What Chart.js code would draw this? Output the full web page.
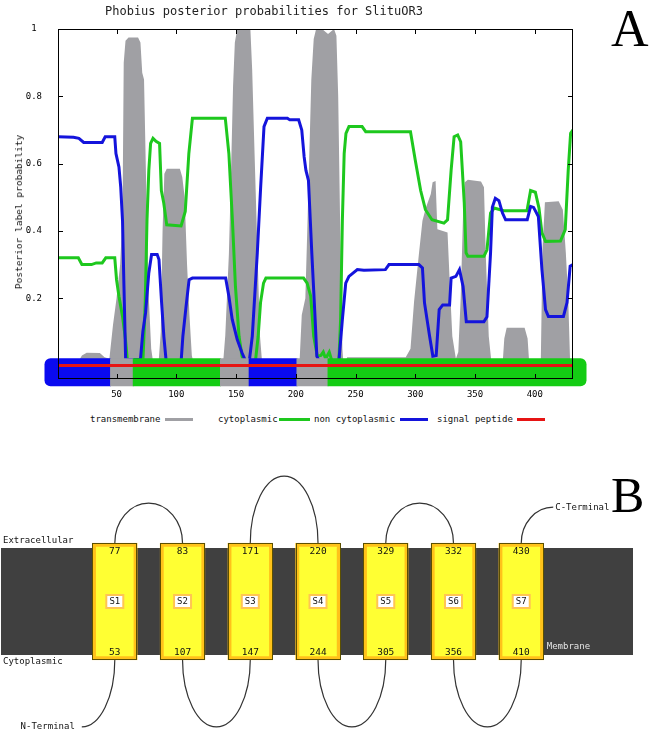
<!DOCTYPE html>
<html lang="en">
<head>
  <meta charset="UTF-8" />
  <title>Phobius posterior probabilities for SlituOR3</title>
  <script src="https://cdn.jsdelivr.net/npm/chart.js"></script>
  <style>
    body {
      margin: 0;
      background: #fff;
      font-family: "DejaVu Sans Mono", monospace;
    }
    #page {
      position: relative;
      width: 651px;
      height: 733px;
      overflow: hidden;
      background: #fff;
    }
    #chartA { position: absolute; left: 0; top: 0; }
    #chartB { position: absolute; left: 0; top: 460px; }
    .title {
      position: absolute;
      left: 105px;
      top: 4px;
      font-size: 12px;
      line-height: 14px;
      color: #222;
      white-space: pre;
    }
    .ytitle {
      position: absolute;
      left: 19px;
      top: 212px;
      font-size: 9.5px;
      line-height: 12px;
      color: #111;
      white-space: pre;
      transform: translate(-50%, -50%) rotate(-90deg);
    }
    .panel-letter {
      position: absolute;
      font-family: "Liberation Serif", "DejaVu Serif", serif;
      line-height: 1;
      color: #000;
    }
    .legend span {
      position: absolute;
      top: 413px;
      font-size: 9px;
      line-height: 12px;
      color: #111;
      white-space: pre;
    }
    .legend i {
      position: absolute;
      top: 418px;
      height: 3px;
    }
  </style>
</head>
<body>
<div id="page">
  <canvas id="chartA" width="651" height="410"></canvas>
  <div class="title">Phobius posterior probabilities for SlituOR3</div>
  <div class="ytitle">Posterior label probability</div>
  <div class="panel-letter" style="left:611px; top:3px; font-size:52px;">A</div>

  <div class="legend">
    <span style="left:90px">transmembrane</span><i style="left:165px; width:28px; background:#a0a0a4"></i>
    <span style="left:218px">cytoplasmic</span><i style="left:279px; width:31px; background:#1ec81e"></i>
    <span style="left:314px">non cytoplasmic</span><i style="left:400px; width:28px; background:#1414dc"></i>
    <span style="left:437px">signal peptide</span><i style="left:517px; width:28px; background:#e61414"></i>
  </div>

  <canvas id="chartB" width="651" height="273"></canvas>
  <div class="panel-letter" style="left:611px; top:470px; font-size:50px;">B</div>
</div>

<script>
  // ---- Panel A: posterior probabilities (residue position -> probability) ----
  const tmPos = [1, 17, 21, 25, 36, 40, 44, 47, 50, 53, 55, 56, 57.5, 60, 68, 70, 71.5, 73, 75, 77, 79, 81,
    85, 87, 88.5, 90, 92, 103, 105, 107, 109, 111, 113, 115,
    139, 141, 144, 145.5, 147.5, 149, 151, 162, 163.5, 165.5, 168, 170, 172,
    203, 205, 208, 210, 213, 215, 217, 222, 227, 232, 234, 235.5, 237, 239, 240, 243, 292,
    296, 299, 303, 306, 309, 313, 314.5, 317, 318.5, 327, 329, 331, 334, 336, 338, 340, 341.5, 344,
    355, 357.5, 359, 361.5, 364, 373, 374.5, 376.5, 391.5, 394, 395.5,
    405, 406.5, 408.5, 420, 423.5, 426, 428, 429.5, 432];
  const tmProb = [0, 0.005, 0.03, 0.038, 0.037, 0.025, 0.02, 0.12, 0.2, 0.3, 0.45, 0.9, 0.965, 0.975, 0.975, 0.96, 0.87, 0.85, 0.5, 0.2, 0.05, 0,
    0, 0.1, 0.4, 0.57, 0.585, 0.585, 0.56, 0.5, 0.3, 0.15, 0.03, 0,
    0, 0.09, 0.33, 0.53, 0.83, 0.96, 1.0, 1.0, 0.88, 0.63, 0.33, 0.09, 0,
    0, 0.15, 0.2, 0.45, 0.85, 0.97, 1.0, 1.0, 0.985, 1.0, 0.98, 0.8, 0.45, 0.05, 0, 0.025, 0.025,
    0.05, 0.19, 0.33, 0.43, 0.47, 0.51, 0.545, 0.548, 0.405, 0.395, 0.235, 0.087, 0.02, 0.04, 0.2, 0.45, 0.545, 0.552,
    0.547, 0.53, 0.33, 0.087, 0, 0, 0.08, 0.112, 0.112, 0.08, 0,
    0, 0.35, 0.485, 0.488, 0.463, 0.335, 0.2, 0.02, 0];

  const cytPos = [1, 18, 21, 29, 33, 38, 41, 48.5, 50, 52, 55, 57.5, 59, 62, 72, 74, 75.5, 77, 78.5, 80.5, 83, 86,
    87.5, 89.5, 92, 104, 107.5, 110.5, 113.5, 141, 144, 147, 149.5, 152.5, 155, 157, 166, 168.5, 170.5, 173, 175,
    206.5, 209.5, 212.5, 215, 218, 221, 223, 225, 228, 231, 236, 237.5, 239, 240.5, 242, 244.5, 255.5, 258.5,
    296, 300, 304.5, 308.5, 314, 324, 327, 330, 332.5, 335.5, 338, 341, 342.5, 344, 357.5, 360, 363, 366,
    374, 393.5, 396.5, 400.5, 403.5, 406, 409, 421.5, 425.5, 428, 430, 432];
  const cytProb = [0.32, 0.32, 0.30, 0.30, 0.305, 0.305, 0.32, 0.32, 0.255, 0.206, 0.146, 0.077, 0.018, 0.005, 0.005, 0.187, 0.433, 0.58, 0.66, 0.675, 0.666, 0.66,
    0.52, 0.483, 0.418, 0.415, 0.458, 0.63, 0.735, 0.735, 0.63, 0.43, 0.235, 0.087, 0.028, 0.005, 0.005, 0.087, 0.187, 0.245, 0.26,
    0.26, 0.245, 0.206, 0.087, 0.028, 0.03, 0.04, 0.02, 0.04, 0.005, 0.005, 0.137, 0.433, 0.63, 0.69, 0.71, 0.71, 0.695,
    0.695, 0.61, 0.52, 0.463, 0.433, 0.423, 0.433, 0.58, 0.68, 0.685, 0.665, 0.483, 0.335, 0.325, 0.325, 0.344, 0.453, 0.468,
    0.46, 0.46, 0.52, 0.515, 0.468, 0.394, 0.369, 0.37, 0.404, 0.58, 0.69, 0.70];

  const noncytPos = [1, 14, 18.5, 22.5, 38, 40.5, 48.5, 49.5, 52, 53.5, 55, 56.2, 57.6, 70, 72, 74.3, 77, 79.3, 84, 85.5,
    87.7, 89.6, 91.6, 104, 105.5, 108, 110.7, 113.5, 141.3, 144, 146.8, 151, 155, 159, 161, 163.6, 167.8, 170.6,
    173.4, 176.2, 193, 195, 202.4, 205, 207, 208.5, 210.6, 213.4, 216.2, 217.6, 220, 236, 239, 241.8, 244.5,
    251.5, 257, 275, 278, 303, 306, 307.7, 312, 314.7, 317.5, 320, 323, 328.7, 330, 334, 337, 340, 342.7,
    357.4, 360, 363, 364.5, 367, 370, 373, 375.6, 393.7, 396.5, 399, 403, 406, 409, 411.4, 424, 427, 429.6, 432];
  const noncytProb = [0.68, 0.678, 0.675, 0.663, 0.663, 0.68, 0.68, 0.63, 0.59, 0.53, 0.43, 0.235, 0.018, 0.018, 0.1, 0.157, 0.275, 0.33, 0.33, 0.315,
    0.187, 0.086, 0.01, 0.01, 0.087, 0.17, 0.255, 0.26, 0.26, 0.206, 0.137, 0.077, 0.038, 0.005, 0.01, 0.087, 0.335, 0.53,
    0.71, 0.735, 0.735, 0.73, 0.73, 0.70, 0.62, 0.58, 0.55, 0.335, 0.137, 0.028, 0.01, 0.01, 0.137, 0.245, 0.265,
    0.285, 0.283, 0.285, 0.30, 0.30, 0.29, 0.187, 0.087, 0.028, 0.03, 0.166, 0.18, 0.18, 0.26, 0.265, 0.285, 0.235, 0.13,
    0.13, 0.145, 0.335, 0.47, 0.497, 0.49, 0.453, 0.433, 0.433, 0.473, 0.47, 0.443, 0.285, 0.166, 0.146, 0.146, 0.187, 0.295, 0.30];

  const sigPos = [1, 432];
  const sigProb = [0, 0];

  // predicted topology shown as the thick bar along the bottom
  const topoStart = [1, 45, 64, 137, 161, 201, 227];
  const topoEnd = [45, 64, 137, 161, 201, 227, 432];
  const topoClass = ['non cytoplasmic', 'transmembrane', 'cytoplasmic', 'transmembrane', 'non cytoplasmic', 'transmembrane', 'cytoplasmic'];

  const xTicks = [50, 100, 150, 200, 250, 300, 350, 400];
  const yTicks = [0.2, 0.4, 0.6, 0.8, 1];

  // ---- Panel B: helices (residue numbers at each membrane side) ----
  const helixNames = ['S1', 'S2', 'S3', 'S4', 'S5', 'S6', 'S7'];
  const helixInside = [53, 107, 147, 244, 305, 356, 410];
  const helixOutside = [77, 83, 171, 220, 329, 332, 430];

  const GRAY = '#a0a0a4', GREEN = '#1ec81e', BLUE = '#1414dc', RED = '#e61414';
  const TOPO_COLORS = { 'transmembrane': '#a0a0a4', 'cytoplasmic': '#14cc14', 'non cytoplasmic': '#0a0af0' };
  const MONO = '"DejaVu Sans Mono", monospace';

  const pts = (xs, ys) => xs.map((x, i) => ({ x: x, y: ys[i] }));

  const topologyBar = {
    id: 'topologyBar',
    beforeDatasetDraw(chart, args) {
      if (args.index !== 0) return; // draw just before the red line
      const { ctx, scales: { x, y } } = chart;
      const yc = y.getPixelForValue(-0.02), h = 28, ext = 13;
      ctx.save();
      topoStart.forEach((s, i) => {
        const first = i === 0, last = i === topoStart.length - 1;
        let x0 = x.getPixelForValue(s) - 0.5, x1 = x.getPixelForValue(topoEnd[i]) + 0.5;
        if (first) x0 -= ext;
        if (last) x1 += ext;
        ctx.fillStyle = TOPO_COLORS[topoClass[i]];
        ctx.beginPath();
        ctx.roundRect(x0, yc - h / 2, x1 - x0, h, [first ? 6 : 0, last ? 6 : 0, last ? 6 : 0, first ? 6 : 0]);
        ctx.fill();
      });
      ctx.restore();
    }
  };

  const frame = {
    id: 'frame',
    afterDraw(chart) {
      const { ctx, chartArea: a, scales: { x, y } } = chart;
      const t = 5;
      ctx.save();
      ctx.strokeStyle = '#000';
      ctx.lineWidth = 1;
      ctx.strokeRect(a.left + 0.5, a.top + 0.5, a.right - a.left - 1, a.bottom - a.top - 1);
      ctx.beginPath();
      xTicks.forEach(v => {
        const px = Math.round(x.getPixelForValue(v)) + 0.5;
        ctx.moveTo(px, a.top); ctx.lineTo(px, a.top + t);
        ctx.moveTo(px, a.bottom); ctx.lineTo(px, a.bottom - t);
      });
      yTicks.forEach(v => {
        const py = Math.round(y.getPixelForValue(v)) + 0.5;
        ctx.moveTo(a.left, py); ctx.lineTo(a.left + t, py);
        ctx.moveTo(a.right, py); ctx.lineTo(a.right - t, py);
      });
      ctx.stroke();
      ctx.restore();
    }
  };

  new Chart(document.getElementById('chartA'), {
    type: 'line',
    data: {
      datasets: [
        { label: 'signal peptide', data: pts(sigPos, sigProb), borderColor: RED, borderWidth: 3, order: 0 },
        { label: 'non cytoplasmic', data: pts(noncytPos, noncytProb), borderColor: BLUE, borderWidth: 3, order: 1 },
        { label: 'cytoplasmic', data: pts(cytPos, cytProb), borderColor: GREEN, borderWidth: 3, order: 2 },
        { label: 'transmembrane', data: pts(tmPos, tmProb), borderWidth: 0, borderColor: GRAY,
          backgroundColor: GRAY, fill: 'origin', order: 3 }
      ]
    },
    options: {
      responsive: false,
      animation: false,
      elements: { point: { radius: 0 }, line: { tension: 0 } },
      layout: { padding: { top: 29, right: 78, left: 0, bottom: 0 } },
      plugins: { legend: { display: false }, tooltip: { enabled: false } },
      scales: {
        x: {
          type: 'linear', min: 1, max: 432,
          grid: { display: false }, border: { display: false },
          afterBuildTicks: s => { s.ticks = xTicks.map(v => ({ value: v })); },
          afterFit: s => { s.height = 31; },
          ticks: { padding: 2, color: '#000', maxRotation: 0, autoSkip: false, font: { family: MONO, size: 9 } }
        },
        y: {
          min: -0.04, max: 1,
          grid: { display: false }, border: { display: false },
          afterBuildTicks: s => { s.ticks = yTicks.map(v => ({ value: v })); },
          afterFit: s => { s.width = 58; },
          ticks: { padding: 8, crossAlign: 'center', color: '#000', font: { family: MONO, size: 9 },
                   callback: v => (v === 1 ? '1' : v.toFixed(1)) }
        }
      }
    },
    plugins: [topologyBar, frame]
  });

  // ---- Panel B ----
  const membrane = {
    id: 'membrane',
    beforeDatasetsDraw(chart) {
      const { ctx, chartArea: a } = chart;
      const bars = chart.getDatasetMeta(0).data.map(el => el.getProps(['x', 'y', 'base', 'width'], true));
      ctx.save();
      ctx.fillStyle = '#404040';
      ctx.fillRect(a.left, a.top, a.right - a.left, a.bottom - a.top);

      ctx.font = '9px ' + MONO;
      ctx.textBaseline = 'middle';
      ctx.fillStyle = '#111';
      ctx.textAlign = 'left';
      ctx.fillText('Extracellular', a.left + 2, a.top - 7);
      ctx.fillText('Cytoplasmic', a.left + 2, a.bottom + 7);
      const lastBar = bars[bars.length - 1];
      ctx.fillStyle = '#e4e4e4';
      ctx.fillText('Membrane', lastBar.x + lastBar.width / 2 + 3, a.bottom - 8);

      // loops between helices
      ctx.strokeStyle = '#333';
      ctx.lineWidth = 1.2;
      for (let i = 0; i < bars.length - 1; i++) {
        const p = bars[i], q = bars[i + 1];
        const out = helixOutside[i] > helixInside[i];
        const len = out ? Math.abs(helixOutside[i + 1] - helixOutside[i]) : Math.abs(helixInside[i + 1] - helixInside[i]);
        const ry = len > 20 ? 67 : 40;
        const cx = (p.x + q.x) / 2, rx = (q.x - p.x) / 2;
        ctx.beginPath();
        if (out) ctx.ellipse(cx, p.y, rx, ry, 0, Math.PI, 2 * Math.PI, false);
        else ctx.ellipse(cx, p.base, rx, ry, 0, Math.PI, 0, true);
        ctx.stroke();
      }

      // N-terminal (cytoplasmic side of first helix)
      const f = bars[0];
      ctx.beginPath();
      ctx.ellipse(f.x - 33, f.base, 33, 67, 0, Math.PI / 2, 0, true);
      ctx.stroke();
      ctx.fillStyle = '#111';
      ctx.textAlign = 'right';
      ctx.fillText('N-Terminal', f.x - 40, f.base + 67);

      // C-terminal (extracellular side of last helix)
      ctx.beginPath();
      ctx.ellipse(lastBar.x + 32, lastBar.y, 32, 36, 0, Math.PI, 1.5 * Math.PI, false);
      ctx.stroke();
      ctx.textAlign = 'left';
      ctx.fillText('C-Terminal', lastBar.x + 34, lastBar.y - 36);
      ctx.restore();
    },
    afterDatasetsDraw(chart) {
      const { ctx } = chart;
      const bars = chart.getDatasetMeta(0).data.map(el => el.getProps(['x', 'y', 'base', 'width'], true));
      ctx.save();
      ctx.font = '9.5px ' + MONO;
      ctx.textAlign = 'center';
      ctx.textBaseline = 'middle';
      bars.forEach((b, i) => {
        ctx.strokeStyle = '#5c5000';
        ctx.lineWidth = 1;
        ctx.strokeRect(Math.round(b.x - b.width / 2) + 0.5, Math.round(b.y) + 0.5,
                       Math.round(b.width) - 1, Math.round(b.base - b.y) - 1);
        ctx.fillStyle = '#111';
        ctx.fillText(String(helixOutside[i]), b.x, b.y + 8);
        ctx.fillText(String(helixInside[i]), b.x, b.base - 7);
        const my = (b.y + b.base) / 2;
        ctx.fillStyle = '#fff';
        ctx.fillRect(b.x - 8.5, my - 6.5, 17, 13);
        ctx.strokeStyle = '#ffc552';
        ctx.lineWidth = 2;
        ctx.strokeRect(b.x - 8.5, my - 6.5, 17, 13);
        ctx.fillStyle = '#111';
        ctx.font = '9px ' + MONO;
        ctx.fillText(helixNames[i], b.x, my + 0.5);
        ctx.font = '9.5px ' + MONO;
      });
      ctx.restore();
    }
  };

  new Chart(document.getElementById('chartB'), {
    type: 'bar',
    data: {
      datasets: [{
        data: helixNames.map((n, i) => ({ x: i + 1, y: [-1.09, 1.09] })),
        backgroundColor: '#ffff33',
        borderColor: '#ffc21a',
        borderWidth: 4,
        borderSkipped: false,
        barThickness: 45,
        clip: false
      }]
    },
    options: {
      responsive: false,
      animation: false,
      layout: { padding: { left: 1, right: 18, top: 88, bottom: 78 } },
      plugins: { legend: { display: false }, tooltip: { enabled: false } },
      scales: {
        x: { type: 'linear', min: -0.68, max: 8.65, offset: false, display: false },
        y: { min: -1, max: 1, display: false }
      }
    },
    plugins: [membrane]
  });
</script>
</body>
</html>
